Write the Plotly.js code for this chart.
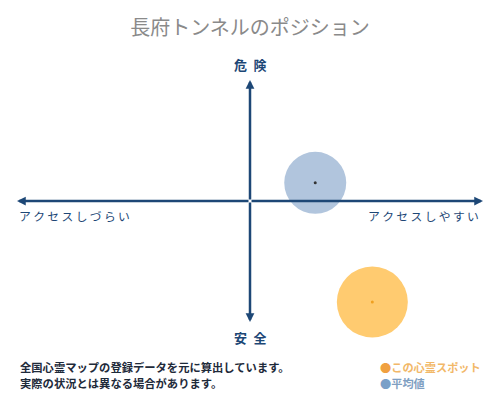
<!DOCTYPE html>
<html>
<head>
<meta charset="utf-8">
<script src="https://cdn.plot.ly/plotly-3.0.1.min.js"></script>
<style>
  html, body { margin: 0; padding: 0; background: #fff; }
  #graph { width: 500px; height: 400px; }
</style>
</head>
<body>
<div id="graph"></div>
<script>
// positions on the map, -10..10 on both axes
let pointNames = ["平均値", "この心霊スポット"];
let pointX = [2.8, 5.25];
let pointY = [1.5, -8.35];

let chartTitle = "長府トンネルのポジション";
let topLabel = "危\u2002険";
let bottomLabel = "安\u2002全";
let leftLabel = "ア\u2009ク\u2009セ\u2009ス\u2009し\u2009づ\u2009ら\u2009い";
let rightLabel = "ア\u2009ク\u2009セ\u2009ス\u2009し\u2009や\u2009す\u2009い";
let noteLines = [
    "全国心霊マップの登録データを元に算出しています。",
    "実際の状況とは異なる場合があります。"
];

const navy = "#1d4776";
const font = "Noto Sans CJK JP";

function plot() {
    let avg = {
        x: [pointX[0]],
        y: [pointY[0]],
        name: pointNames[0],
        type: "scatter",
        mode: "markers",
        cliponaxis: false,
        hoverinfo: "skip",
        marker: { size: 62, color: "#b1c5dd" }
    };

    let spot = {
        x: [pointX[1]],
        y: [pointY[1]],
        name: pointNames[1],
        type: "scatter",
        mode: "markers",
        cliponaxis: false,
        hoverinfo: "skip",
        marker: { size: 71, color: "#ffcb70" }
    };

    let dots = {
        x: pointX,
        y: pointY,
        type: "scatter",
        mode: "markers",
        cliponaxis: false,
        hoverinfo: "skip",
        marker: { size: 3, color: ["#333333", "#f0a020"] }
    };

    let arrow = (x, y) => ({
        x: x, y: y, ax: 0, ay: 0,
        xref: "x", yref: "y", axref: "x", ayref: "y",
        text: "", showarrow: true,
        arrowhead: 2, arrowsize: 0.7, arrowwidth: 2.5, arrowcolor: navy, standoff: 0
    });

    let label = (text, opts) => Object.assign({
        text: text, showarrow: false,
        font: { family: font, size: 12, color: navy, weight: "bold" }
    }, opts);

    let annotations = [
        arrow(10, 0), arrow(-10, 0), arrow(0, 10), arrow(0, -10),
        label(topLabel, { xref: "paper", yref: "paper", x: 0.5, y: 1, yanchor: "bottom", yshift: 4,
            font: { family: font, size: 13, color: navy, weight: "bold" } }),
        label(bottomLabel, { xref: "paper", yref: "paper", x: 0.5, y: 0, yanchor: "top", yshift: -4,
            font: { family: font, size: 13, color: navy, weight: "bold" } }),
        label(leftLabel, { xref: "paper", yref: "paper", x: 0, xanchor: "left", y: 0.44, yanchor: "middle",
            font: { family: font, size: 11.8, color: navy } }),
        label(rightLabel, { xref: "paper", yref: "paper", x: 1, xanchor: "right", xshift: -2, y: 0.44, yanchor: "middle",
            font: { family: font, size: 11.8, color: navy } }),
        label(noteLines[0], { xref: "paper", yref: "paper", x: 0, xanchor: "left", xshift: 1, y: -0.186, yanchor: "middle",
            font: { family: font, size: 11.3, color: "#1e2a3a", weight: "bold" } }),
        label(noteLines[1], { xref: "paper", yref: "paper", x: 0, xanchor: "left", xshift: 1, y: -0.252, yanchor: "middle",
            font: { family: font, size: 11.3, color: "#1e2a3a", weight: "bold" } }),
        label("<span style='color:#f0a040'>●</span>" + pointNames[1], { xref: "paper", yref: "paper", x: 0.774, xanchor: "left", y: -0.186, yanchor: "middle",
            font: { family: font, size: 11.2, color: "#f2b868", weight: "bold" } }),
        label("<span style='color:#7aa0c8'>●</span>" + pointNames[0], { xref: "paper", yref: "paper", x: 0.774, xanchor: "left", y: -0.252, yanchor: "middle",
            font: { family: font, size: 11.2, color: "#7f9fc2", weight: "bold" } })
    ];

    let hidden = {
        range: [-10, 10], showgrid: false, zeroline: false,
        showticklabels: false, showline: false, ticks: "", fixedrange: true
    };

    let layout = {
        width: 500,
        height: 400,
        margin: { l: 17, r: 17, t: 80, b: 78 },
        paper_bgcolor: "#ffffff",
        plot_bgcolor: "#ffffff",
        showlegend: false,
        title: {
            text: chartTitle,
            x: 0.5, xanchor: "center",
            y: 0.93, yanchor: "middle",
            font: { family: font, size: 20, color: "#8a8a8a" }
        },
        xaxis: Object.assign({}, hidden),
        yaxis: Object.assign({}, hidden),
        annotations: annotations
    };

    Plotly.newPlot("graph", [avg, spot, dots], layout, { displayModeBar: false, staticPlot: true });
}

plot();
</script>
</body>
</html>
